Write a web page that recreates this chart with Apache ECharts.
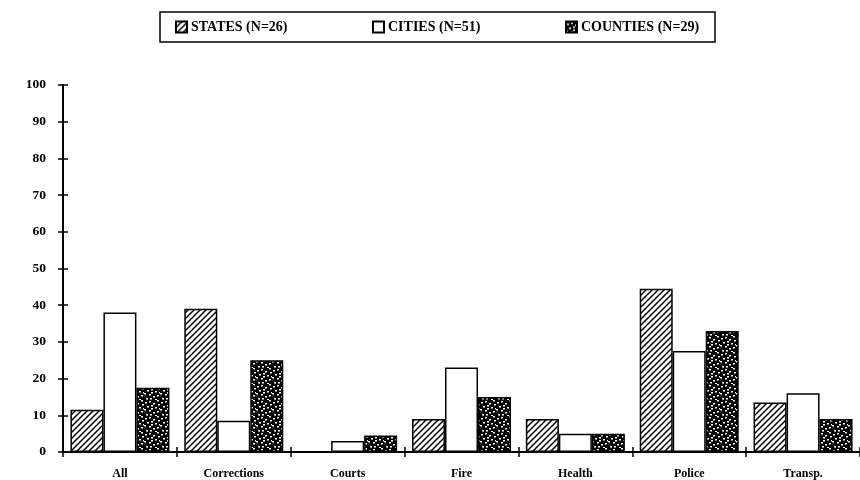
<!DOCTYPE html>
<html>
<head>
<meta charset="utf-8">
<script src="https://cdn.jsdelivr.net/npm/echarts@6/dist/echarts.min.js"></script>
<style>html,body{margin:0;padding:0;background:#fff}#c{width:860px;height:480px}</style>
</head>
<body>
<div id="c"></div>
<script>
const categories = ['All', 'Corrections', 'Courts', 'Fire', 'Health', 'Police', 'Transp.'];
const statesValues = [11.5, 39, 0, 9, 9, 44.5, 13.5];
const citiesValues = [38, 8.5, 3, 23, 5, 27.5, 16];
const countiesValues = [17.5, 25, 4.5, 15, 5, 33, 9];
const seriesNames = ['STATES (N=26)', 'CITIES (N=51)', 'COUNTIES (N=29)'];
const yTicks = [0, 100, 10];

function hatchPattern() {
  const c = document.createElement('canvas');
  c.width = 6; c.height = 6;
  const g = c.getContext('2d');
  g.fillStyle = '#fff'; g.fillRect(0, 0, 6, 6);
  g.strokeStyle = '#000'; g.lineWidth = 1.5;
  g.beginPath();
  g.moveTo(-1, 7); g.lineTo(7, -1);
  g.moveTo(-4, 4); g.lineTo(4, -4);
  g.moveTo(2, 10); g.lineTo(10, 2);
  g.stroke();
  return c;
}
function speckPattern() {
  const c = document.createElement('canvas');
  c.width = 16; c.height = 16;
  const g = c.getContext('2d');
  g.fillStyle = '#000'; g.fillRect(0, 0, 16, 16);
  g.fillStyle = '#fff';
  const dots = [[1,2],[5,1],[9,3],[13,0],[3,6],[7,5],[11,7],[14,4],[0,9],[5,10],[9,12],[13,11],[2,14],[7,8],[11,15],[15,8],[6,14]];
  dots.forEach(d => g.fillRect(d[0], d[1], 2, 1.5));
  return c;
}
const hatch = { image: hatchPattern(), repeat: 'repeat' };
const speck = { image: speckPattern(), repeat: 'repeat' };

const font = 'Liberation Serif';
const chart = echarts.init(document.getElementById('c'));
const common = { type: 'bar', barWidth: 33, barGap: '0%', xAxisIndex: 0, yAxisIndex: 0 };
chart.setOption({
  animation: false,
  backgroundColor: '#fff',
  graphic: [{ type: 'rect', shape: { x: 160, y: 12, width: 555, height: 30 }, style: { fill: 'none', stroke: '#000', lineWidth: 1.5 }, silent: true }],
  legend: [
    { data: [seriesNames[0]], left: 175, top: 20 },
    { data: [seriesNames[1]], left: 372, top: 20 },
    { data: [seriesNames[2]], left: 565, top: 20 }
  ].map(l => Object.assign(l, {
    itemWidth: 11, itemHeight: 11, icon: 'rect', itemGap: 0,
    padding: 0,
    textStyle: { fontFamily: font, fontWeight: 'bold', fontSize: 14, color: '#000', padding: [0, 0, 0, -1] }
  })),
  grid: { left: 63, top: 85, width: 805, bottom: 27.5 },
  xAxis: [
    { type: 'category', data: categories,
      axisLine: { lineStyle: { color: '#000', width: 2 } },
      axisTick: { show: true, length: 5, lineStyle: { color: '#000', width: 1.5 } },
      axisLabel: { fontFamily: font, fontWeight: 'bold', fontSize: 12, color: '#000', margin: 16 } },
    { type: 'category', data: categories, position: 'bottom',
      axisLine: { show: false },
      axisTick: { show: true, inside: true, length: 5, lineStyle: { color: '#000', width: 1.5 } },
      axisLabel: { show: false } }
  ],
  yAxis: [
    { type: 'value', min: yTicks[0], max: yTicks[1], interval: yTicks[2],
      axisLine: { show: true, lineStyle: { color: '#000', width: 2 } },
      axisTick: { show: true, length: 5, lineStyle: { color: '#000', width: 1.5 } },
      splitLine: { show: false },
      axisLabel: { fontFamily: font, fontWeight: 'bold', fontSize: 13.5, color: '#000', margin: 17 } },
    { type: 'value', min: yTicks[0], max: yTicks[1], interval: yTicks[2], position: 'left',
      axisLine: { show: false },
      axisTick: { show: true, inside: true, length: 5, lineStyle: { color: '#000', width: 1.5 } },
      splitLine: { show: false },
      axisLabel: { show: false } }
  ],
  series: [
    Object.assign({ name: seriesNames[0], data: statesValues,
      itemStyle: { color: hatch, borderColor: '#000', borderWidth: 1.5 } }, common),
    Object.assign({ name: seriesNames[1], data: citiesValues,
      itemStyle: { color: '#fff', borderColor: '#000', borderWidth: 1.5 } }, common),
    Object.assign({ name: seriesNames[2], data: countiesValues,
      itemStyle: { color: speck, borderColor: '#000', borderWidth: 1.5 } }, common)
  ]
});
</script>
</body>
</html>
